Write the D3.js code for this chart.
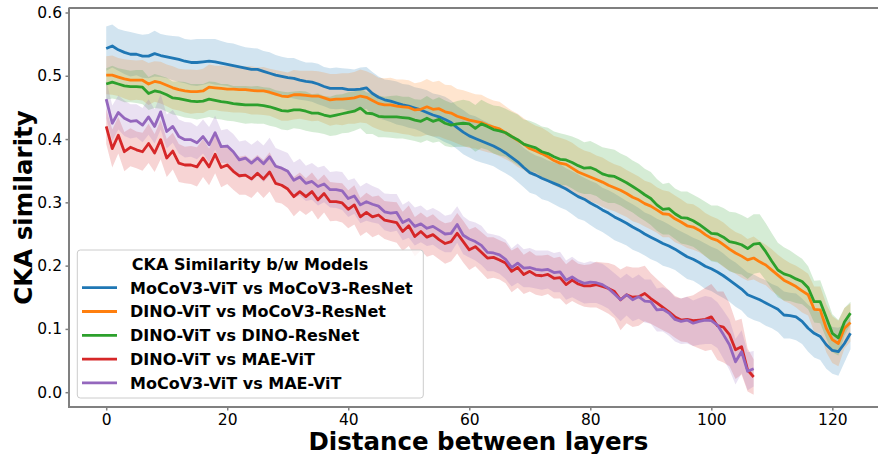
<!DOCTYPE html>
<html>
<head>
<meta charset="utf-8">
<script src="https://cdn.jsdelivr.net/npm/d3@7/dist/d3.min.js"></script>
<style>
  body { margin: 0; background: #fff; }
  svg { display: block; font-family: "DejaVu Sans", sans-serif; }
</style>
</head>
<body>
<div id="chart"></div>
<script>
// series labels and colours (matplotlib tab10)
const seriesNames = [
  'MoCoV3-ViT vs MoCoV3-ResNet',
  'DINO-ViT vs MoCoV3-ResNet',
  'DINO-ViT vs DINO-ResNet',
  'DINO-ViT vs MAE-ViT',
  'MoCoV3-ViT vs MAE-ViT'
];
const seriesColors = ['#1f77b4', '#ff7f0e', '#2ca02c', '#d62728', '#9467bd'];
const legendTitle = 'CKA Similarity b/w Models';
const xTicks = [0, 20, 40, 60, 80, 100, 120];
const yTicks = [0.0, 0.1, 0.2, 0.3, 0.4, 0.5, 0.6];

// mean CKA, index = distance between layers
const mocoVitVsMocoResnet = [
  0.543, 0.547, 0.541, 0.537, 0.534, 0.534, 0.531, 0.531, 0.535, 0.532,
  0.530, 0.528, 0.526, 0.523, 0.521, 0.521, 0.522, 0.523, 0.522, 0.520,
  0.518, 0.516, 0.514, 0.512, 0.510, 0.510, 0.507, 0.504, 0.501, 0.499,
  0.497, 0.496, 0.493, 0.491, 0.490, 0.487, 0.483, 0.480, 0.480, 0.480,
  0.478, 0.478, 0.479, 0.481, 0.472, 0.466, 0.462, 0.460, 0.457, 0.454,
  0.452, 0.449, 0.446, 0.442, 0.438, 0.435, 0.431, 0.426, 0.418, 0.411,
  0.405, 0.401, 0.397, 0.393, 0.389, 0.384, 0.378, 0.371, 0.364, 0.355,
  0.347, 0.343, 0.338, 0.334, 0.330, 0.326, 0.321, 0.315, 0.309, 0.305,
  0.299, 0.294, 0.288, 0.283, 0.277, 0.272, 0.267, 0.261, 0.256, 0.250,
  0.245, 0.240, 0.235, 0.231, 0.226, 0.220, 0.214, 0.210, 0.205, 0.199,
  0.195, 0.190, 0.184, 0.177, 0.170, 0.163, 0.154, 0.150, 0.146, 0.141,
  0.136, 0.131, 0.122, 0.121, 0.119, 0.112, 0.101, 0.093, 0.088, 0.075,
  0.066, 0.064, 0.077, 0.093
];
const mocoVitVsMocoResnetStd = [
  .035, .034, .033, .034, .035, .033, .034, .035, .036, .034,
  .034, .035, .036, .035, .036, .037, .036, .035, .036, .035,
  .034, .035, .034, .033, .034, .033, .032, .033, .032, .031,
  .031, .032, .031, .030, .031, .032, .031, .032, .033, .032,
  .033, .032, .034, .033, .034, .033, .032, .033, .034, .033,
  .034, .033, .034, .035, .034, .035, .036, .035, .034, .035,
  .034, .035, .034, .033, .032, .033, .032, .031, .032, .031,
  .032, .031, .033, .032, .033, .034, .033, .034, .035, .034,
  .035, .036, .035, .036, .037, .036, .035, .036, .035, .034,
  .035, .034, .035, .034, .033, .034, .035, .034, .035, .036,
  .035, .036, .035, .034, .035, .034, .035, .036, .035, .036,
  .035, .036, .037, .036, .037, .036, .037, .038, .037, .038,
  .037, .038, .030, .025
];

const dinoVitVsMocoResnet = [
  0.501, 0.501, 0.498, 0.495, 0.493, 0.493, 0.493, 0.487, 0.491, 0.489,
  0.485, 0.481, 0.478, 0.476, 0.475, 0.475, 0.476, 0.482, 0.481, 0.480,
  0.479, 0.479, 0.478, 0.478, 0.477, 0.476, 0.476, 0.474, 0.471, 0.468,
  0.467, 0.470, 0.470, 0.469, 0.468, 0.468, 0.465, 0.462, 0.463, 0.463,
  0.464, 0.465, 0.468, 0.466, 0.461, 0.456, 0.454, 0.454, 0.452, 0.451,
  0.450, 0.446, 0.447, 0.451, 0.447, 0.448, 0.443, 0.441, 0.436, 0.433,
  0.430, 0.428, 0.426, 0.422, 0.419, 0.416, 0.410, 0.404, 0.398, 0.392,
  0.385, 0.381, 0.377, 0.372, 0.366, 0.362, 0.360, 0.354, 0.348, 0.344,
  0.340, 0.336, 0.332, 0.327, 0.323, 0.319, 0.314, 0.308, 0.304, 0.298,
  0.294, 0.288, 0.282, 0.281, 0.274, 0.269, 0.263, 0.261, 0.256, 0.249,
  0.243, 0.240, 0.233, 0.226, 0.220, 0.215, 0.209, 0.212, 0.206, 0.201,
  0.193, 0.185, 0.177, 0.172, 0.167, 0.160, 0.154, 0.131, 0.130, 0.101,
  0.083, 0.077, 0.101, 0.110
];
const dinoVitVsMocoResnetStd = [
  .030, .031, .030, .031, .032, .031, .032, .033, .032, .033,
  .033, .034, .033, .034, .035, .034, .035, .036, .035, .036,
  .036, .037, .036, .037, .038, .037, .038, .037, .038, .039,
  .038, .039, .038, .039, .040, .039, .040, .041, .040, .041,
  .040, .041, .042, .041, .042, .041, .042, .043, .042, .043,
  .043, .042, .043, .044, .043, .044, .043, .044, .043, .044,
  .044, .043, .044, .043, .042, .043, .042, .041, .042, .041,
  .041, .040, .041, .040, .039, .040, .039, .040, .039, .038,
  .039, .038, .039, .038, .037, .038, .037, .038, .037, .036,
  .037, .036, .037, .036, .037, .036, .035, .036, .035, .034,
  .035, .034, .035, .034, .033, .034, .033, .034, .033, .032,
  .033, .032, .033, .032, .033, .034, .033, .036, .037, .038,
  .037, .036, .032, .030
];

const dinoVitVsDinoResnet = [
  0.487, 0.490, 0.487, 0.484, 0.483, 0.483, 0.482, 0.472, 0.476, 0.474,
  0.470, 0.465, 0.464, 0.462, 0.460, 0.459, 0.460, 0.463, 0.461, 0.459,
  0.458, 0.456, 0.455, 0.454, 0.454, 0.454, 0.453, 0.451, 0.448, 0.445,
  0.444, 0.446, 0.446, 0.444, 0.441, 0.441, 0.438, 0.436, 0.438, 0.440,
  0.442, 0.444, 0.449, 0.441, 0.440, 0.436, 0.435, 0.435, 0.435, 0.434,
  0.433, 0.430, 0.428, 0.433, 0.428, 0.431, 0.425, 0.422, 0.424, 0.425,
  0.424, 0.417, 0.424, 0.420, 0.415, 0.413, 0.410, 0.404, 0.399, 0.392,
  0.389, 0.386, 0.380, 0.377, 0.372, 0.368, 0.367, 0.363, 0.358, 0.354,
  0.355, 0.351, 0.345, 0.342, 0.341, 0.336, 0.331, 0.325, 0.319, 0.312,
  0.306, 0.296, 0.289, 0.290, 0.282, 0.276, 0.275, 0.271, 0.265, 0.258,
  0.251, 0.250, 0.245, 0.238, 0.236, 0.233, 0.227, 0.234, 0.235, 0.222,
  0.207, 0.193, 0.187, 0.184, 0.179, 0.175, 0.165, 0.143, 0.143, 0.118,
  0.093, 0.086, 0.111, 0.125
];
const dinoVitVsDinoResnetStd = [
  .025, .026, .025, .026, .025, .026, .027, .026, .027, .026,
  .027, .026, .027, .028, .027, .028, .027, .028, .029, .028,
  .029, .028, .029, .030, .029, .030, .029, .030, .029, .030,
  .030, .029, .030, .031, .030, .031, .030, .031, .032, .031,
  .032, .031, .032, .033, .032, .033, .032, .033, .034, .033,
  .034, .033, .034, .035, .034, .035, .036, .035, .036, .037,
  .036, .037, .038, .037, .038, .039, .038, .039, .040, .039,
  .040, .039, .040, .041, .040, .041, .040, .041, .042, .041,
  .042, .041, .042, .043, .042, .041, .042, .041, .042, .041,
  .042, .041, .040, .041, .040, .041, .042, .041, .042, .043,
  .044, .045, .046, .047, .048, .047, .048, .047, .046, .045,
  .044, .043, .042, .040, .038, .036, .034, .033, .034, .033,
  .030, .028, .022, .018
];

const dinoVitVsMaeVit = [
  0.420, 0.385, 0.406, 0.380, 0.387, 0.383, 0.380, 0.393, 0.378, 0.399,
  0.370, 0.381, 0.362, 0.359, 0.359, 0.356, 0.370, 0.356, 0.376, 0.355,
  0.359, 0.349, 0.342, 0.343, 0.337, 0.346, 0.337, 0.348, 0.330, 0.327,
  0.321, 0.309, 0.317, 0.309, 0.317, 0.304, 0.314, 0.301, 0.301, 0.299,
  0.289, 0.296, 0.277, 0.284, 0.277, 0.280, 0.272, 0.270, 0.268, 0.254,
  0.263, 0.246, 0.254, 0.245, 0.249, 0.241, 0.235, 0.238, 0.251, 0.238,
  0.225, 0.230, 0.221, 0.212, 0.213, 0.209, 0.204, 0.191, 0.197, 0.186,
  0.191, 0.185, 0.184, 0.186, 0.180, 0.181, 0.170, 0.177, 0.171, 0.168,
  0.168, 0.170, 0.167, 0.164, 0.159, 0.146, 0.154, 0.150, 0.151, 0.156,
  0.148, 0.141, 0.134, 0.127, 0.119, 0.114, 0.115, 0.113, 0.114, 0.115,
  0.119, 0.105, 0.103, 0.091, 0.067, 0.072, 0.035, 0.024
];
const dinoVitVsMaeVitStd = [
  .028, .030, .029, .031, .030, .029, .030, .031, .030, .031,
  .030, .029, .030, .029, .030, .031, .030, .029, .030, .031,
  .030, .029, .030, .031, .030, .029, .030, .031, .030, .029,
  .030, .031, .030, .029, .030, .031, .030, .031, .030, .031,
  .030, .031, .030, .031, .032, .031, .030, .031, .032, .031,
  .032, .031, .030, .031, .032, .031, .032, .031, .032, .033,
  .032, .031, .032, .033, .032, .031, .032, .033, .032, .031,
  .032, .031, .032, .031, .032, .033, .032, .033, .032, .033,
  .034, .036, .038, .040, .042, .048, .045, .047, .046, .044,
  .040, .038, .036, .034, .033, .034, .036, .040, .045, .050,
  .052, .054, .056, .050, .046, .044, .034, .028
];

const mocoVitVsMaeVit = [
  0.463, 0.425, 0.442, 0.433, 0.428, 0.429, 0.422, 0.435, 0.420, 0.443,
  0.412, 0.420, 0.404, 0.399, 0.399, 0.394, 0.404, 0.391, 0.410, 0.388,
  0.389, 0.380, 0.367, 0.370, 0.362, 0.370, 0.361, 0.372, 0.357, 0.354,
  0.349, 0.335, 0.340, 0.330, 0.333, 0.325, 0.329, 0.320, 0.320, 0.318,
  0.306, 0.310, 0.296, 0.301, 0.297, 0.294, 0.285, 0.283, 0.284, 0.268,
  0.273, 0.262, 0.266, 0.259, 0.262, 0.256, 0.250, 0.251, 0.265, 0.248,
  0.242, 0.238, 0.232, 0.221, 0.220, 0.217, 0.210, 0.197, 0.204, 0.196,
  0.197, 0.194, 0.193, 0.194, 0.189, 0.190, 0.177, 0.182, 0.176, 0.172,
  0.174, 0.173, 0.170, 0.164, 0.155, 0.146, 0.154, 0.146, 0.151, 0.144,
  0.143, 0.130, 0.131, 0.125, 0.115, 0.112, 0.114, 0.109, 0.112, 0.114,
  0.113, 0.106, 0.091, 0.075, 0.048, 0.064, 0.033, 0.037
];
const mocoVitVsMaeVitStd = [
  .030, .028, .027, .028, .027, .026, .027, .028, .027, .028,
  .027, .026, .027, .028, .027, .026, .027, .028, .027, .026,
  .027, .028, .029, .028, .029, .028, .029, .030, .029, .028,
  .029, .028, .029, .028, .029, .030, .029, .028, .029, .030,
  .029, .028, .029, .030, .029, .028, .029, .030, .029, .028,
  .029, .030, .029, .028, .029, .030, .029, .030, .029, .030,
  .029, .030, .031, .030, .029, .030, .031, .030, .031, .030,
  .031, .030, .031, .030, .031, .032, .031, .032, .031, .032,
  .033, .032, .033, .032, .033, .034, .033, .034, .035, .034,
  .035, .034, .035, .036, .035, .036, .037, .036, .037, .038,
  .037, .036, .038, .040, .036, .034, .030, .028
];

const seriesMeans = [mocoVitVsMocoResnet, dinoVitVsMocoResnet, dinoVitVsDinoResnet, dinoVitVsMaeVit, mocoVitVsMaeVit];
const seriesStds = [mocoVitVsMocoResnetStd, dinoVitVsMocoResnetStd, dinoVitVsDinoResnetStd, dinoVitVsMaeVitStd, mocoVitVsMaeVitStd];

const width = 878, height = 454;
const plot = { left: 69, top: 8, right: 887.7, bottom: 407 };

const svg = d3.select('#chart').append('svg')
  .attr('width', width)
  .attr('height', height)
  .attr('viewBox', `0 0 ${width} ${height}`);

const x = d3.scaleLinear().domain([-6.15, 129.15]).range([plot.left, plot.right]);
const y = d3.scaleLinear().domain([-0.0234, 0.6071]).range([plot.bottom, plot.top]);

const series = seriesNames.map((name, k) => ({
  name,
  color: seriesColors[k],
  points: seriesMeans[k].map((m, i) => ({ d: i, m, s: seriesStds[k][i] }))
}));

svg.append('clipPath').attr('id', 'clip')
  .append('rect')
  .attr('x', plot.left).attr('y', plot.top)
  .attr('width', plot.right - plot.left).attr('height', plot.bottom - plot.top);

const band = d3.area()
  .x(p => x(p.d))
  .y0(p => y(p.m - p.s))
  .y1(p => y(p.m + p.s));

const line = d3.line()
  .x(p => x(p.d))
  .y(p => y(p.m));

const inner = svg.append('g').attr('clip-path', 'url(#clip)');

// fills sit under every line, like matplotlib's zorder
inner.selectAll('path.band')
  .data(series)
  .join('path')
  .attr('class', 'band')
  .attr('d', s => band(s.points))
  .attr('fill', s => s.color)
  .attr('fill-opacity', 0.2);

inner.selectAll('path.mean')
  .data(series)
  .join('path')
  .attr('class', 'mean')
  .attr('d', s => line(s.points))
  .attr('fill', 'none')
  .attr('stroke', s => s.color)
  .attr('stroke-width', 2.8)
  .attr('stroke-linejoin', 'round');

// axes
const tickColor = '#808080';
const yAxis = svg.append('g')
  .attr('transform', `translate(${plot.left},0)`)
  .call(d3.axisLeft(y).tickValues(yTicks).tickFormat(d3.format('.1f')).tickSize(3.5).tickPadding(3.5));
const xAxis = svg.append('g')
  .attr('transform', `translate(0,${plot.bottom})`)
  .call(d3.axisBottom(x).tickValues(xTicks).tickSize(3.5).tickPadding(3.5));

[xAxis, yAxis].forEach(a => {
  a.select('.domain').remove();
  a.selectAll('.tick line').attr('stroke', tickColor).attr('stroke-width', 1.5);
  a.selectAll('.tick text')
    .attr('fill', '#000')
    .style('font-family', '"DejaVu Sans", sans-serif')
    .style('font-size', '15.5px');
});

// spines
svg.append('line')
  .attr('x1', plot.left).attr('x2', plot.right)
  .attr('y1', plot.top).attr('y2', plot.top)
  .attr('stroke', '#000').attr('stroke-width', 1.2);
svg.append('line')
  .attr('x1', plot.left).attr('x2', plot.left)
  .attr('y1', plot.top - 0.6).attr('y2', plot.bottom + 1)
  .attr('stroke', tickColor).attr('stroke-width', 2);
svg.append('line')
  .attr('x1', plot.left - 1).attr('x2', plot.right)
  .attr('y1', plot.bottom).attr('y2', plot.bottom)
  .attr('stroke', tickColor).attr('stroke-width', 2);

// axis titles
svg.append('text')
  .attr('x', (plot.left + plot.right) / 2)
  .attr('y', 450)
  .attr('text-anchor', 'middle')
  .attr('font-size', 24.5)
  .attr('font-weight', 'bold')
  .text('Distance between layers');

svg.append('text')
  .attr('transform', `translate(32,${(plot.top + plot.bottom) / 2}) rotate(-90)`)
  .attr('text-anchor', 'middle')
  .attr('font-size', 24.5)
  .attr('font-weight', 'bold')
  .text('CKA similarity');

// legend
const legend = svg.append('g');
legend.append('rect')
  .attr('x', 77.3).attr('y', 250)
  .attr('width', 346).attr('height', 148)
  .attr('rx', 3)
  .attr('fill', '#fff').attr('fill-opacity', 0.8)
  .attr('stroke', '#cccccc').attr('stroke-width', 1);

legend.append('text')
  .attr('x', 250).attr('y', 269.5)
  .attr('text-anchor', 'middle')
  .attr('font-size', 16)
  .attr('font-weight', 'bold')
  .text(legendTitle);

const rows = legend.selectAll('g.row')
  .data(series)
  .join('g')
  .attr('class', 'row')
  .attr('transform', (s, k) => `translate(0,${287.7 + k * 23.8})`);

rows.append('line')
  .attr('x1', 82).attr('x2', 117)
  .attr('stroke', s => s.color)
  .attr('stroke-width', 2.8);

rows.append('text')
  .attr('x', 130).attr('y', 5.8)
  .attr('font-size', 16)
  .attr('font-weight', 'bold')
  .text(s => s.name);
</script>
</body>
</html>
